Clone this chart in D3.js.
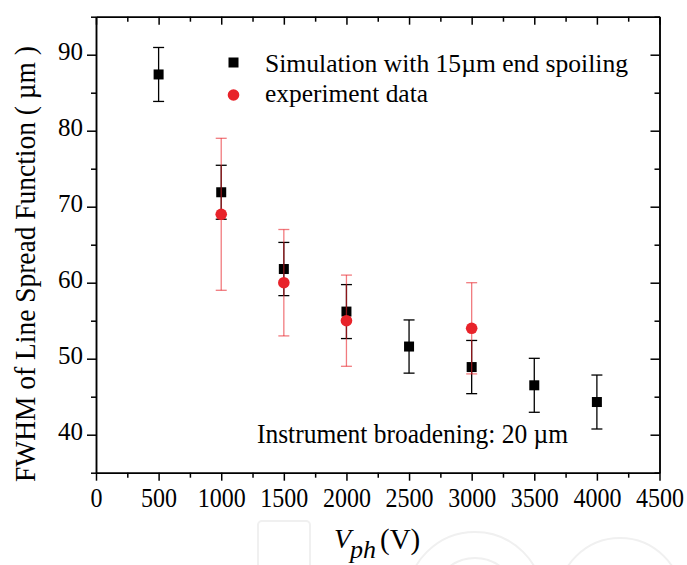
<!DOCTYPE html>
<html>
<head>
<meta charset="utf-8">
<script src="https://cdn.jsdelivr.net/npm/d3@7"></script>
<style>
  body { margin: 0; background: #fff; }
  svg text { font-family: "Liberation Serif", "DejaVu Serif", serif; fill: #000; }
  .axis path, .axis line { stroke: #000; stroke-width: 1.5; }
</style>
</head>
<body>
<div id="chart"></div>
<script>
// simulation with 15um end spoiling
var simVolts = [500, 1000, 1500, 2000, 2500, 3000, 3500, 4000];
var simFwhm = [87.4, 71.9, 61.8, 56.2, 51.6, 48.9, 46.5, 44.3];
var simErr = [3.55, 3.55, 3.5, 3.55, 3.5, 3.5, 3.55, 3.55];

// experiment data
var expVolts = [1000, 1500, 2000, 3000];
var expFwhm = [69, 60, 55, 54];
var expErr = [10, 7, 6, 6];

var xMajor = [0, 500, 1000, 1500, 2000, 2500, 3000, 3500, 4000, 4500];
var xMinor = [250, 750, 1250, 1750, 2250, 2750, 3250, 3750, 4250];
var yMajor = [40, 50, 60, 70, 80, 90];
var yMinor = [35, 45, 55, 65, 75, 85, 95];

var width = 687, height = 565;
var red = '#e8232a';
var serif = '"Liberation Serif", "DejaVu Serif", serif';

var svg = d3.select('#chart').append('svg')
    .attr('width', width)
    .attr('height', height);

// faint watermark behind everything
var wm = svg.append('g').style('fill', 'none').style('stroke', '#f0f0f0').style('stroke-width', 2);
wm.append('rect').attr('x', 258).attr('y', 521).attr('width', 52).attr('height', 60).attr('rx', 4);
wm.append('circle').attr('cx', 475).attr('cy', 600).attr('r', 68);
wm.append('circle').attr('cx', 475).attr('cy', 600).attr('r', 42);
wm.append('circle').attr('cx', 620).attr('cy', 600).attr('r', 62);

var x = d3.scaleLinear().domain([0, 4500]).range([96, 659.5]);
var y = d3.scaleLinear().domain([35, 95]).range([472.7, 16.7]);

function addAxis(axis, cls, tr){
    var g = svg.append('g')
        .attr('class', 'axis ' + cls)
        .attr('transform', tr)
        .call(axis);
    g.attr('font-family', serif).attr('font-size', 25);
    return g;
}

// bottom
addAxis(d3.axisBottom(x).tickValues(xMajor).tickSize(8).tickSizeOuter(0).tickPadding(5)
    .tickFormat(d3.format('d')), 'xaxis', 'translate(0,' + y(35) + ')');
addAxis(d3.axisBottom(x).tickValues(xMinor).tickSize(5).tickSizeOuter(0).tickFormat(''),
    'xminor', 'translate(0,' + y(35) + ')');
// top (inward)
addAxis(d3.axisBottom(x).tickValues(xMajor).tickSize(8).tickSizeOuter(0).tickFormat(''),
    'xtop', 'translate(0,' + y(95) + ')');
addAxis(d3.axisBottom(x).tickValues(xMinor).tickSize(5).tickSizeOuter(0).tickFormat(''),
    'xtopminor', 'translate(0,' + y(95) + ')');
// left
addAxis(d3.axisLeft(y).tickValues(yMajor).tickSize(9).tickSizeOuter(0).tickPadding(4),
    'yaxis', 'translate(' + x(0) + ',0)');
addAxis(d3.axisLeft(y).tickValues(yMinor).tickSize(5).tickSizeOuter(0).tickFormat(''),
    'yminor', 'translate(' + x(0) + ',0)');
// right (inward)
addAxis(d3.axisLeft(y).tickValues(yMajor).tickSize(9).tickSizeOuter(0).tickFormat(''),
    'yright', 'translate(' + x(4500) + ',0)');
addAxis(d3.axisLeft(y).tickValues(yMinor).tickSize(5).tickSizeOuter(0).tickFormat(''),
    'yrightminor', 'translate(' + x(4500) + ',0)');

svg.selectAll('.yaxis text').attr('dy', '0.2em');
// taller, narrower digits on the x axis like the original
svg.selectAll('.xaxis text')
    .attr('dy', '0.78em')
    .style('font-size', '27px')
    .attr('textLength', function(d){ return String(d).length * 12; })
    .attr('lengthAdjust', 'spacingAndGlyphs');

// error bars
function errorBars(volts, vals, errs, color, opacity){
    var g = svg.append('g').style('stroke', color).style('stroke-opacity', opacity)
        .style('stroke-width', 1.3);
    volts.forEach(function(v, i){
        var cx = x(v), top = y(vals[i] + errs[i]), bot = y(vals[i] - errs[i]);
        g.append('line').attr('x1', cx).attr('x2', cx).attr('y1', top).attr('y2', bot);
        g.append('line').attr('x1', cx - 5.5).attr('x2', cx + 5.5).attr('y1', top).attr('y2', top);
        g.append('line').attr('x1', cx - 5.5).attr('x2', cx + 5.5).attr('y1', bot).attr('y2', bot);
    });
}

errorBars(simVolts, simFwhm, simErr, '#000', 1);

svg.selectAll('.sim').data(simVolts).enter()
    .append('rect')
    .attr('class', 'sim')
    .attr('x', function(d){ return x(d) - 5; })
    .attr('y', function(d, i){ return y(simFwhm[i]) - 5; })
    .attr('width', 10)
    .attr('height', 10)
    .style('fill', '#000');

errorBars(expVolts, expFwhm, expErr, red, 0.6);

svg.selectAll('.exp').data(expVolts).enter()
    .append('circle')
    .attr('class', 'exp')
    .attr('cx', function(d){ return x(d); })
    .attr('cy', function(d, i){ return y(expFwhm[i]); })
    .attr('r', 5.8)
    .style('fill', red);

// legend
svg.append('rect').attr('x', 228.5).attr('y', 57.5).attr('width', 10).attr('height', 10).style('fill', '#000');
svg.append('circle').attr('cx', 233.5).attr('cy', 95).attr('r', 5.8).style('fill', red);
svg.append('text').attr('x', 265).attr('y', 72)
    .attr('textLength', 363).attr('lengthAdjust', 'spacingAndGlyphs')
    .style('font-size', '25px')
    .text('Simulation with 15\u00b5m end spoiling');
svg.append('text').attr('x', 265).attr('y', 102)
    .attr('textLength', 163).attr('lengthAdjust', 'spacingAndGlyphs')
    .style('font-size', '25px')
    .text('experiment data');

// annotation
svg.append('text').attr('x', 257).attr('y', 443)
    .attr('textLength', 311).attr('lengthAdjust', 'spacingAndGlyphs')
    .style('font-size', '27px')
    .text('Instrument broadening: 20 \u00b5m');

// y title
svg.append('text')
    .attr('transform', 'translate(35,' + 264 + ') rotate(-90)')
    .attr('text-anchor', 'middle')
    .attr('textLength', 436).attr('lengthAdjust', 'spacingAndGlyphs')
    .style('font-size', '29px')
    .text('FWHM of Line Spread Function ( \u00b5m )');

// x title
svg.append('text').attr('x', 334).attr('y', 548)
    .style('font-size', '28px').style('font-style', 'italic').text('V');
svg.append('text').attr('x', 350).attr('y', 558)
    .style('font-size', '26px').style('font-style', 'italic').text('ph');
svg.append('text').attr('x', 380).attr('y', 549)
    .style('font-size', '29px').text('(V)');
</script>
</body>
</html>
